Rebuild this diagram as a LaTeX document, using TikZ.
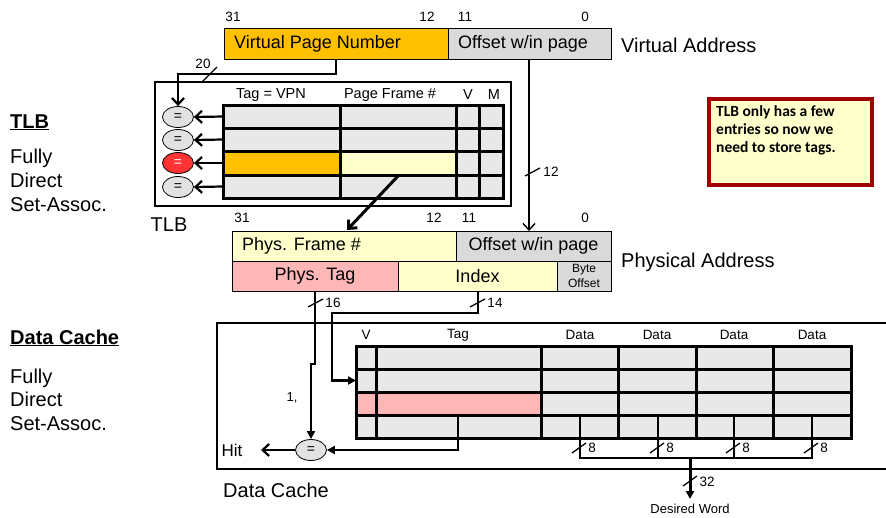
\documentclass[tikz,border=0pt]{standalone}
\usepackage{fontspec}
\setmainfont{Liberation Sans}
\newfontfamily\notefont{Carlito}
\usetikzlibrary{arrows.meta,shapes.geometric}
\newcommand\fsz[1]{\fontsize{#1}{#1}\selectfont}

\definecolor{vpnorange}{HTML}{FFC000}
\definecolor{fieldgray}{HTML}{DADADA}
\definecolor{cellgray}{HTML}{E8E8E8}
\definecolor{paleyellow}{HTML}{FFFFCC}
\definecolor{tagpink}{HTML}{FFB6B6}
\definecolor{hitred}{HTML}{FF3333}
\definecolor{cmpgray}{HTML}{E2E2E2}
\definecolor{notered}{HTML}{A00000}

\begin{document}
\begin{tikzpicture}[x=1pt,y=-1pt,
  field/.style={draw, line width=0.8pt, anchor=north west, inner sep=0pt, outer sep=0pt},
  frame/.style={draw, line width=1.5pt, anchor=north west, inner sep=0pt, outer sep=0pt},
  txt/.style={inner sep=0pt},
  bits/.style={txt, font=\fsz{13.5}},
  big/.style={txt, font=\fsz{20}},
  mid/.style={txt, font=\fsz{18}},
  hdr/.style={txt, font=\fsz{14.5}},
  cmp/.style={draw, ellipse, minimum width=31pt, minimum height=21pt, inner sep=0pt,
              fill=cmpgray, line width=0.8pt, font=\fsz{14}},
  grid/.style={line width=3pt, line cap=rect},
  wire/.style={line width=2.2pt},
  slim/.style={line width=1.4pt},
  barb/.style={-{Straight Barb[length=6.5pt,width=12pt]}},
  tri/.style={-{Triangle[length=8pt,width=8pt]}},
  busmark/.style={line width=1.3pt}]

\useasboundingbox (0,0) rectangle (886,517);

% ---------- side headings ----------
\node[big, anchor=base west, font=\fsz{20}\bfseries] (htlb) at (10,128) {\underline{TLB}};
\node[big, anchor=base west] (t1) at (10,163) {Fully};
\node[big, anchor=base west] (t2) at (10,187) {Direct};
\node[big, anchor=base west] (t3) at (10,211) {Set-Assoc.};
\node[big, anchor=base west, font=\fsz{20}\bfseries] (hdc) at (10,344) {\underline{Data Cache}};
\node[big, anchor=base west] (d1) at (10,383) {Fully};
\node[big, anchor=base west] (d2) at (10,406) {Direct};
\node[big, anchor=base west] (d3) at (10,430) {Set-Assoc.};

% ---------- virtual address ----------
\node[field, fill=vpnorange, minimum width=224pt, minimum height=31pt] (vpn) at (224,28) {};
\node[field, fill=fieldgray, minimum width=163pt, minimum height=31pt] (voff) at (448,28) {};
\node[mid, anchor=west] (vpnt) at ([xshift=10pt]vpn.west) {Virtual Page Number};
\node[mid, anchor=west] (vofft) at ([xshift=10pt]voff.west) {Offset w/in page};
\node[big, anchor=west] (va) at (621,45) {Virtual Address};
\node[bits] (v31) at (233,17) {31};
\node[bits] (v12) at (427,17) {12};
\node[bits] (v11) at (465,17) {11};
\node[bits] (v0) at (585,17) {0};

% ---------- TLB ----------
\node[frame, minimum width=356pt, minimum height=124pt] (tlbbox) at (155,82) {};
\node[big] (tlbname) at (169,225) {TLB};
\node[hdr] (htag) at (271,95) {Tag = VPN};
\node[hdr] (hpfn) at (390,95) {Page Frame \#};
\node[hdr] (hv) at (468,95) {V};
\node[hdr] (hm) at (494,95) {M};

\fill[cellgray] (223,105) rectangle (503,198);
\fill[vpnorange] (223,151) rectangle (340,175);
\fill[paleyellow] (340,151) rectangle (456,175);
\draw[grid] (223,105) rectangle (503,198);
\foreach \yy in {128,151,175} \draw[grid] (223,\yy) -- (503,\yy);
\foreach \xx in {340,456,479} \draw[grid] (\xx,105) -- (\xx,198);

\node[cmp] (e1) at (178,117) {=};
\node[cmp] (e2) at (178,140) {=};
\node[cmp, fill=hitred, text=white] (e3) at (178,163) {=};
\node[cmp] (e4) at (178,187) {=};

\coordinate (r1) at (223,116.5);
\coordinate (r2) at (223,139.5);
\coordinate (r3) at (223,163);
\coordinate (r4) at (223,186.5);
\foreach \i in {1,2,3,4} \draw[wire, barb] (r\i) -- (e\i.east);

% VPN into the first comparator
\coordinate (vpnout) at (336,59);
\draw[wire, barb] (vpnout) -- ++(0,15) -| (e1.north);
\draw[busmark] (202,82) -- (217,67);
\node[bits] (w20) at (203,64) {20};

% page offset straight down to the physical address
\coordinate (voffout) at (529,59);

% ---------- physical address ----------
\node[field, fill=paleyellow, minimum width=224pt, minimum height=30pt] (pfn) at (232,231) {};
\node[field, fill=fieldgray, minimum width=155pt, minimum height=30pt] (poff) at (456,231) {};
\node[field, fill=tagpink, minimum width=166pt, minimum height=30pt] (ptag) at (232,261) {};
\node[field, fill=paleyellow, minimum width=159pt, minimum height=30pt] (pidx) at (398,261) {};
\node[field, fill=fieldgray, minimum width=54pt, minimum height=30pt] (pbyte) at (557,261) {};
\node[mid, anchor=west] (pfnt) at ([xshift=10pt]pfn.west) {Phys. Frame \#};
\node[mid] (pofft) at (poff.center) {Offset w/in page};
\node[mid] (ptagt) at (ptag.center) {Phys. Tag};
\node[mid] (pidxt) at (pidx.center) {Index};
\node[txt, align=center, font=\fontsize{12}{14.5}\selectfont] (pbytet) at (pbyte.center) {Byte\\Offset};
\node[big, anchor=west] (pa) at (621,262) {Physical Address};
\node[bits] (p31) at (242,218) {31};
\node[bits] (p12) at (434,218) {12};
\node[bits] (p11) at (469,218) {11};
\node[bits] (p0) at (585,218) {0};

\draw[slim, barb] (voffout) -- (voffout |- poff.north);
\draw[busmark] (525,176) -- (540,168);
\node[bits] (w12) at (551,172) {12};

% selected frame number into the physical address
\coordinate (pfnsrc) at (398,176);
\coordinate (pfnin) at (347,230);
\draw[line width=3pt, barb] (pfnsrc) -- (pfnin);

% ---------- note ----------
\node[draw=notered, line width=4pt, fill=paleyellow, anchor=north west,
      minimum width=163pt, minimum height=86pt, inner sep=0pt] (note) at (707,97) {};
\node[txt, anchor=north west, align=left,
      font=\notefont\bfseries\fontsize{15.5}{18}\selectfont] (notetext) at (716,105)
      {TLB only has a few\\entries so now we\\need to store tags.};

% ---------- data cache ----------
\node[frame, minimum width=690pt, minimum height=146pt] (cachebox) at (217,323) {};
\node[big] (dcname) at (276,490) {Data Cache};
\node[bits] (cv) at (366,335) {V};
\node[bits] (ctag) at (458,335) {Tag};
\node[bits] (cd1) at (580,335) {Data};
\node[bits] (cd2) at (657,335) {Data};
\node[bits] (cd3) at (734,335) {Data};
\node[bits] (cd4) at (812,335) {Data};

\fill[cellgray] (356,346) rectangle (851,438);
\fill[tagpink] (356,392) rectangle (541,415);
\draw[grid] (356,346) rectangle (851,438);
\foreach \yy in {369,392,415} \draw[grid] (356,\yy) -- (851,\yy);
\foreach \xx in {376,541,618,696,773} \draw[grid] (\xx,346) -- (\xx,438);

% tag compare
\node[cmp] (hitcmp) at (311,450) {=};
\node[txt, font=\fsz{17}] (hit) at (232,450) {Hit};
\coordinate (hitend) at (261,450);
\draw[wire, barb] (hitcmp.west) -- (hitend);
\coordinate (tagout) at (458,415);
\draw[wire, tri] (tagout) |- (hitcmp.east);
\node[bits, font=\fsz{13}] (one) at (292,398) {1,};

% physical tag down to the comparator
\coordinate (ptagout) at (315,291);
\draw[wire, tri] (ptagout) -- (315,364) -- (311,364) -- (hitcmp.north);
\draw[busmark] (308,307) -- (323,299);
\node[bits] (w16) at (333,303) {16};

% index selects the set
\coordinate (pidxout) at (478,291);
\coordinate (setin) at (356,380.5);
\draw[wire, tri] (pidxout) -- (478,313) -- (332,313) |- (setin);
\draw[busmark] (470,307) -- (485,299);
\node[bits] (w14) at (495,303) {14};

% byte select from the four data blocks
\coordinate (b1) at (580,415);
\coordinate (b2) at (658,415);
\coordinate (b3) at (734,415);
\coordinate (b4) at (812,415);
\draw[wire] (b1) -- (580,458) -- (812,458) -- (b4);
\draw[wire] (b2) -- (658,458);
\draw[wire] (b3) -- (734,458);
\foreach \xx/\nm in {580/m1,658/m2,734/m3,812/m4} {
  \draw[busmark] (\xx-8,453) -- (\xx+6,443);
  \node[bits] (\nm) at (\xx+12,448) {8};
}
\node[bits, font=\fsz{13}] (dw) at (690,509) {Desired Word};
\coordinate (wordsrc) at (690,458);
\coordinate (wordin) at (690,499);
\draw[line width=3pt, tri] (wordsrc) -- (wordin);
\draw[busmark] (683,486) -- (697,476);
\node[bits] (w32) at (707,482) {32};

\end{tikzpicture}
\end{document}
